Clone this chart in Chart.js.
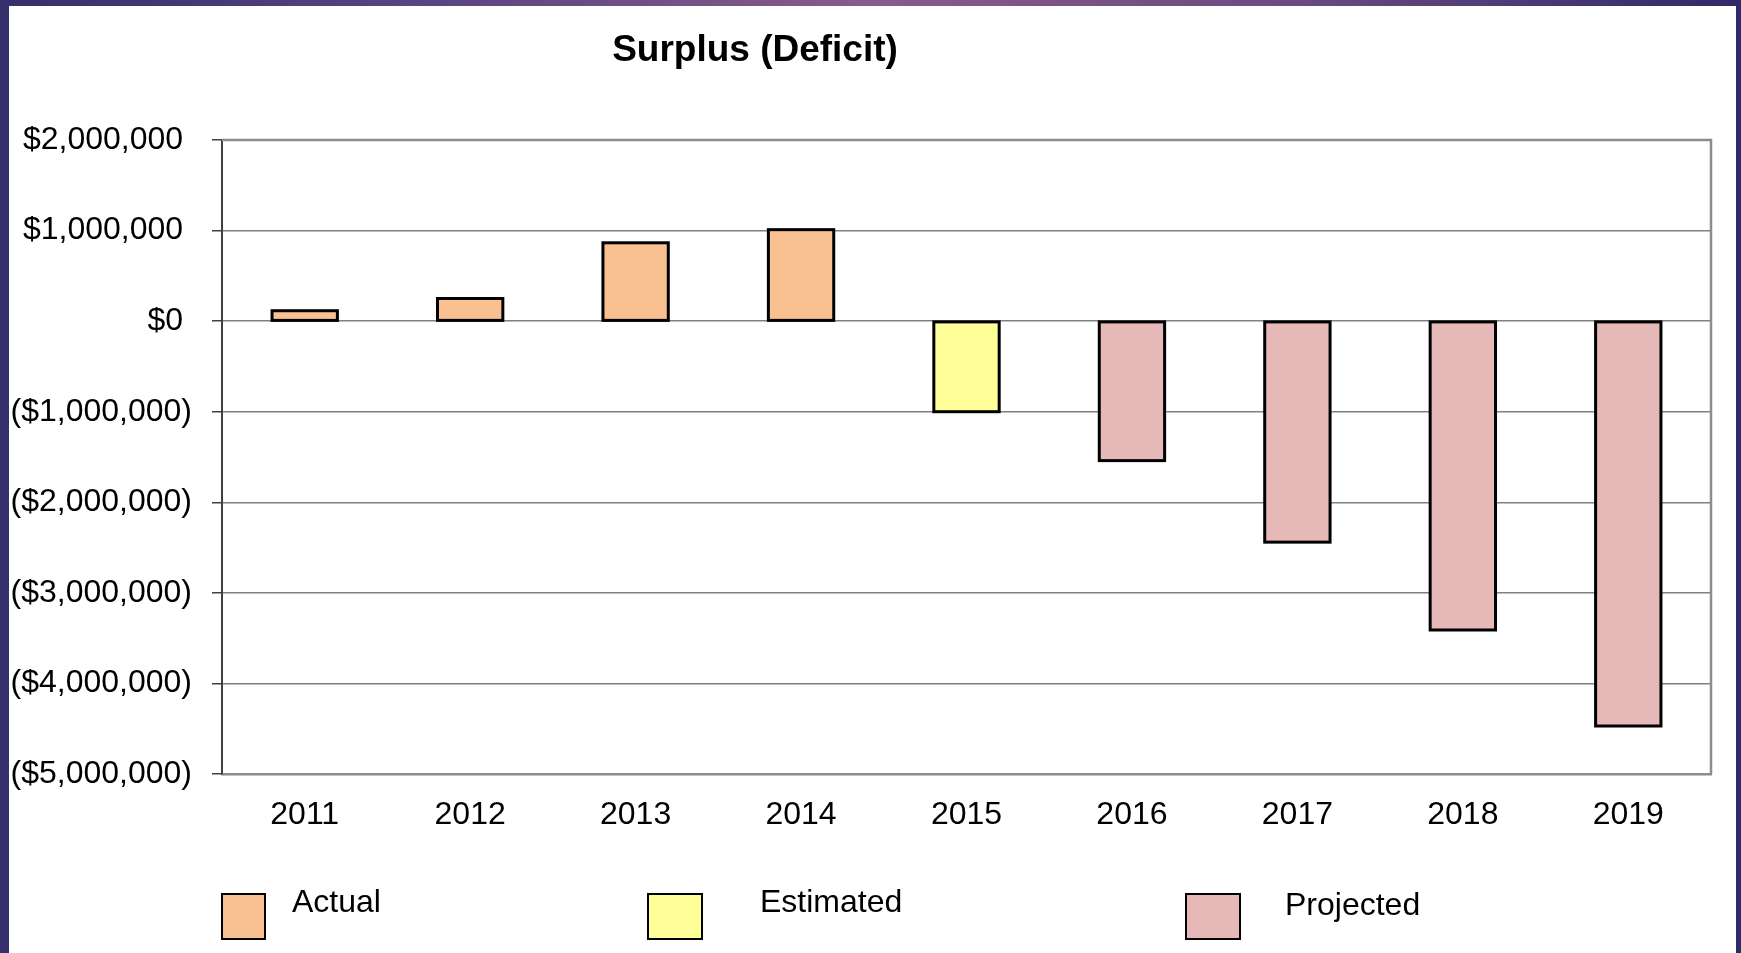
<!DOCTYPE html>
<html>
<head>
<meta charset="utf-8">
<script src="https://cdn.jsdelivr.net/npm/chart.js@4/dist/chart.umd.min.js"></script>
<style>
  html, body { margin: 0; padding: 0; }
  body {
    width: 1741px; height: 953px; overflow: hidden;
    background: linear-gradient(90deg, #352f6c 0%, #5a4580 25%, #8a5a8c 50%, #6a4a80 75%, #2f2a68 100%);
    position: relative;
  }
  #panel {
    position: absolute; left: 9px; top: 6px; width: 1727px; height: 947px;
    background: #ffffff;
  }
  canvas { display: block; }
</style>
</head>
<body>
<div id="panel"><canvas id="c" width="1727" height="947"></canvas></div>
<script>
// ---- data ----
const titleText = 'Surplus (Deficit)';
const categories = ['2011', '2012', '2013', '2014', '2015', '2016', '2017', '2018', '2019'];
const values = [115000, 250000, 865000, 1010000, -1000000, -1540000, -2440000, -3410000, -4470000];
const status = ['Actual', 'Actual', 'Actual', 'Actual', 'Estimated', 'Projected', 'Projected', 'Projected', 'Projected'];
const legendLabels = ['Actual', 'Estimated', 'Projected'];
const statusColors = { Actual: '#F9C191', Estimated: '#FFFF99', Projected: '#E6B8B7' };
const yMin = -5000000, yMax = 2000000, yStep = 1000000;

const FONT = '"Liberation Sans", Arial, sans-serif';

function fmtMoney(v) {
  const s = '$' + Math.abs(v).toLocaleString('en-US');
  return v < 0 ? '(' + s + ')' : s + ' ';
}

const titlePlugin = {
  id: 'customTitle',
  afterDraw(chart) {
    const ctx = chart.ctx;
    ctx.save();
    ctx.fillStyle = '#000';
    ctx.font = 'bold 37px ' + FONT;
    ctx.textAlign = 'center';
    ctx.textBaseline = 'middle';
    ctx.fillText(titleText, 746, 45);
    ctx.restore();
  }
};

// outline each bar centred on its edges (as in the original), using element geometry from the scales
const barOutlinePlugin = {
  id: 'barOutline',
  afterDatasetsDraw(chart) {
    const ctx = chart.ctx;
    const meta = chart.getDatasetMeta(0);
    ctx.save();
    ctx.strokeStyle = '#000';
    ctx.lineWidth = 3;
    meta.data.forEach(el => {
      const p = el.getProps(['x', 'y', 'base', 'width'], true);
      const top = Math.min(p.y, p.base), h = Math.abs(p.y - p.base);
      ctx.strokeRect(p.x - p.width / 2, top, p.width, h);
    });
    ctx.restore();
  }
};

const framePlugin = {
  id: 'frame',
  afterDraw(chart) {
    const a = chart.chartArea, ctx = chart.ctx;
    ctx.save();
    ctx.strokeStyle = '#8c8c8c';
    ctx.lineWidth = 2.5;
    ctx.beginPath();
    ctx.moveTo(a.left, a.top);
    ctx.lineTo(a.right, a.top);
    ctx.lineTo(a.right, a.bottom);
    ctx.stroke();
    ctx.restore();
  }
};

const legendPlugin = {
  id: 'customLegend',
  afterDraw(chart) {
    const ctx = chart.ctx;
    const pos = [
      { bx: 213, bw: 43, tx: 283, ty: 897 },
      { bx: 639, bw: 54, tx: 751, ty: 897 },
      { bx: 1177, bw: 54, tx: 1276, ty: 900 }
    ];
    ctx.save();
    legendLabels.forEach((lab, i) => {
      const p = pos[i];
      ctx.fillStyle = statusColors[lab];
      ctx.fillRect(p.bx, 888, p.bw, 45);
      ctx.strokeStyle = '#000';
      ctx.lineWidth = 2;
      ctx.strokeRect(p.bx, 888, p.bw, 45);
      ctx.fillStyle = '#000';
      ctx.font = '32px ' + FONT;
      ctx.textAlign = 'left';
      ctx.textBaseline = 'middle';
      ctx.fillText(lab, p.tx, p.ty);
    });
    ctx.restore();
  }
};

new Chart(document.getElementById('c'), {
  type: 'bar',
  data: {
    labels: categories,
    datasets: [{
      label: 'Surplus (Deficit)',
      data: values,
      backgroundColor: status.map(s => statusColors[s]),
      borderWidth: 0,
      barPercentage: 0.395,
      categoryPercentage: 1.0
    }]
  },
  options: {
    responsive: false,
    animation: false,
    devicePixelRatio: 1,
    layout: { padding: { top: 134, right: 25, left: 0, bottom: 0 } },
    plugins: {
      legend: { display: false },
      title: { display: false },
      tooltip: { enabled: false }
    },
    scales: {
      x: {
        grid: { display: false, drawTicks: false },
        border: { display: true, color: '#8c8c8c', width: 2.5 },
        ticks: { color: '#000', font: { family: FONT, size: 32 }, padding: 22, maxRotation: 0 },
        afterFit(scale) { scale.height = 179; }
      },
      y: {
        min: yMin, max: yMax,
        grid: { color: '#808080', lineWidth: 1.5, drawTicks: true, tickLength: 10, tickColor: '#404040' },
        border: { display: true, color: '#404040', width: 2 },
        ticks: {
          stepSize: yStep, color: '#000', padding: 20,
          font: { family: FONT, size: 32 },
          callback: v => fmtMoney(v)
        },
        afterFit(scale) { scale.width = 213; }
      }
    }
  },
  plugins: [titlePlugin, barOutlinePlugin, framePlugin, legendPlugin]
});
</script>
</body>
</html>
